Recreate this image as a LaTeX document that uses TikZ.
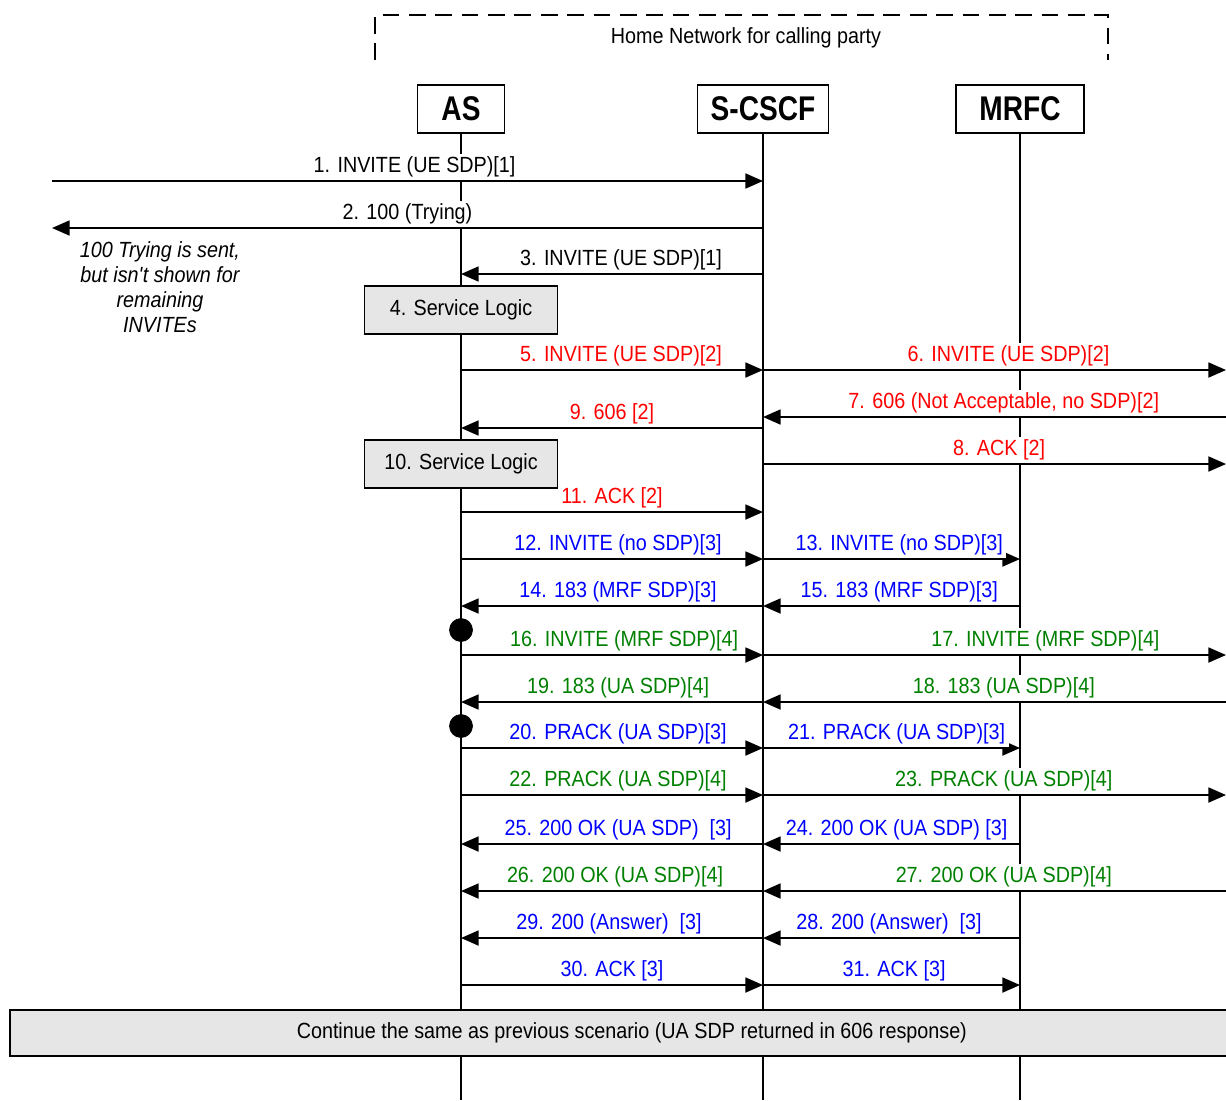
\documentclass[tikz,border=0pt]{standalone}
\usepackage{fontspec}
\setmainfont[FakeStretch=0.9]{Liberation Sans}
\usetikzlibrary{arrows.meta,positioning}
\definecolor{msgred}{RGB}{255,0,0}
\definecolor{msgblue}{RGB}{0,0,255}
\definecolor{msggreen}{RGB}{0,128,0}
\definecolor{boxgray}{RGB}{230,230,230}
\tikzset{
    entity/.style={
    rectangle,draw=black,line width=1.1pt,minimum height=0.96cm,inner sep=0pt,
    font=\fontsize{19.5pt}{21pt}\selectfont\bfseries\addfontfeature{FakeStretch=0.82}
    },
    lifeline/.style={
    line width=1.1pt
    },
    msg/.style={
    line width=1.1pt,-{Triangle[length=10pt,width=8.5pt]}
    },
    lbl/.style={
    fill=white,anchor=south,inner xsep=2pt,inner ysep=1.5pt,text depth=2.8pt
    },
    lblred/.style={lbl,text=msgred},
    lblblue/.style={lbl,text=msgblue},
    lblgreen/.style={lbl,text=msggreen},
    logic/.style={
    rectangle,draw=black,fill=boxgray,line width=1.1pt,
    minimum width=3.86cm,minimum height=0.96cm
    },
    bracket/.style={
    draw=black,line width=1.1pt,dash pattern=on 9.5pt off 5.5pt
    },
    dot/.style={
    circle,draw=black,fill=black,minimum size=0.46cm,inner sep=0pt
    },
}

\begin{document}
\begin{tikzpicture}[x=0.02cm,y=-0.02cm,font=\fontsize{12.5pt}{15pt}\selectfont]
  \useasboundingbox (0,0) rectangle (1226,1100);
  \clip (0,0) rectangle (1226,1100);

  \draw[bracket] (375,60) -- (375,15) -- (1108,15) -- (1108,60);
  \node (home) at (746,38) {Home Network for calling party};

  \node[entity,minimum width=1.74cm] (as) at (461,109) {AS};
  \node[entity,minimum width=2.62cm] (cscf) at (763,109) {S-CSCF};
  \node[entity,minimum width=2.56cm] (mrfc) at (1020,109) {MRFC};

  \coordinate (asend) at (461,1100);
  \coordinate (cscfend) at (763,1100);
  \coordinate (mrfcend) at (1020,1100);
  \path[lifeline]
    (as) edge (asend)
    (cscf) edge (cscfend)
    (mrfc) edge (mrfcend);

  \foreach \n/\y in {1/181,2/228,3/274,5/370,7/417,9/428,8/464,11/512,12/559,
      14/606,16/655,18/702,20/748,22/795,24/844,26/891,28/938,30/985}{
    \coordinate (ue\n) at (52,\y);
    \coordinate (as\n) at (461,\y);
    \coordinate (cs\n) at (763,\y);
    \coordinate (mr\n) at (1020,\y);
    \coordinate (out\n) at (1226,\y);
  }

  \node[align=center,font=\fontsize{12.5pt}{14.2pt}\selectfont\itshape] (note) at (160,287)
    {100 Trying is sent,\\but isn\textquotesingle t shown for\\remaining\\INVITEs};

  \node[logic] (logic4) at (461,310) {4. Service Logic};
  \node[logic] (logic10) at (461,464) {10. Service Logic};

  \path[msg]
    (ue1) edge node[lbl,pos=.51] {1. INVITE (UE SDP)[1]} (cs1)
    (cs2) edge node[lbl] {2. 100 (Trying)} (ue2)
    (cs3) edge node[lbl,pos=.47] {3. INVITE (UE SDP)[1]} (as3)
    (as5) edge node[lblred,pos=.53] {5. INVITE (UE SDP)[2]} (cs5)
    (cs5) edge node[lblred,pos=.53] {6. INVITE (UE SDP)[2]} (out5)
    (out7) edge node[lblred,pos=.48] {7. 606 (Not Acceptable, no SDP)[2]} (cs7)
    (cs9) edge node[lblred] {9. 606 [2]} (as9)
    (cs8) edge node[lblred,pos=.51] {8. ACK [2]} (out8)
    (as11) edge node[lblred] {11. ACK [2]} (cs11)
    (as12) edge node[lblblue,pos=.52] {12. INVITE (no SDP)[3]} (cs12)
    (cs12) edge node[lblblue,pos=.53] {13. INVITE (no SDP)[3]} (mr12)
    (cs14) edge node[lblblue,pos=.48] {14. 183 (MRF SDP)[3]} (as14)
    (mr14) edge node[lblblue,pos=.47] {15. 183 (MRF SDP)[3]} (cs14)
    (as16) edge node[lblgreen,pos=.54] {16. INVITE (MRF SDP)[4]} (cs16)
    (cs16) edge node[lblgreen,pos=.61] {17. INVITE (MRF SDP)[4]} (out16)
    (out18) edge node[lblgreen,pos=.48] {18. 183 (UA SDP)[4]} (cs18)
    (cs18) edge node[lblgreen,pos=.48] {19. 183 (UA SDP)[4]} (as18)
    (as20) edge node[lblblue,pos=.52] {20. PRACK (UA SDP)[3]} (cs20)
    (cs20) edge node[lblblue,pos=.52] {21. PRACK (UA SDP)[3]} (mr20)
    (as22) edge node[lblgreen,pos=.52] {22. PRACK (UA SDP)[4]} (cs22)
    (cs22) edge node[lblgreen,pos=.52] {23. PRACK (UA SDP)[4]} (out22)
    (cs24) edge node[lblblue,pos=.48] {25. 200 OK (UA SDP)~~[3]} (as24)
    (mr24) edge node[lblblue,pos=.48] {24. 200 OK (UA SDP) [3]} (cs24)
    (cs26) edge node[lblgreen,pos=.49] {26. 200 OK (UA SDP)[4]} (as26)
    (out26) edge node[lblgreen,pos=.48] {27. 200 OK (UA SDP)[4]} (cs26)
    (cs28) edge node[lblblue,pos=.51] {29. 200 (Answer)~~[3]} (as28)
    (mr28) edge node[lblblue,pos=.51] {28. 200 (Answer)~~[3]} (cs28)
    (as30) edge node[lblblue] {30. ACK [3]} (cs30)
    (cs30) edge node[lblblue,pos=.51] {31. ACK [3]} (mr30);

  \node[dot] (hold16) at (461,630) {};
  \node[dot] (hold20) at (461,726) {};

  \node[rectangle,draw=black,fill=boxgray,line width=1.1pt,anchor=west,
    minimum width=24.88cm,minimum height=0.92cm] (cont) at (9,1033)
    {Continue the same as previous scenario (UA SDP returned in 606 response)};
\end{tikzpicture}
\end{document}
